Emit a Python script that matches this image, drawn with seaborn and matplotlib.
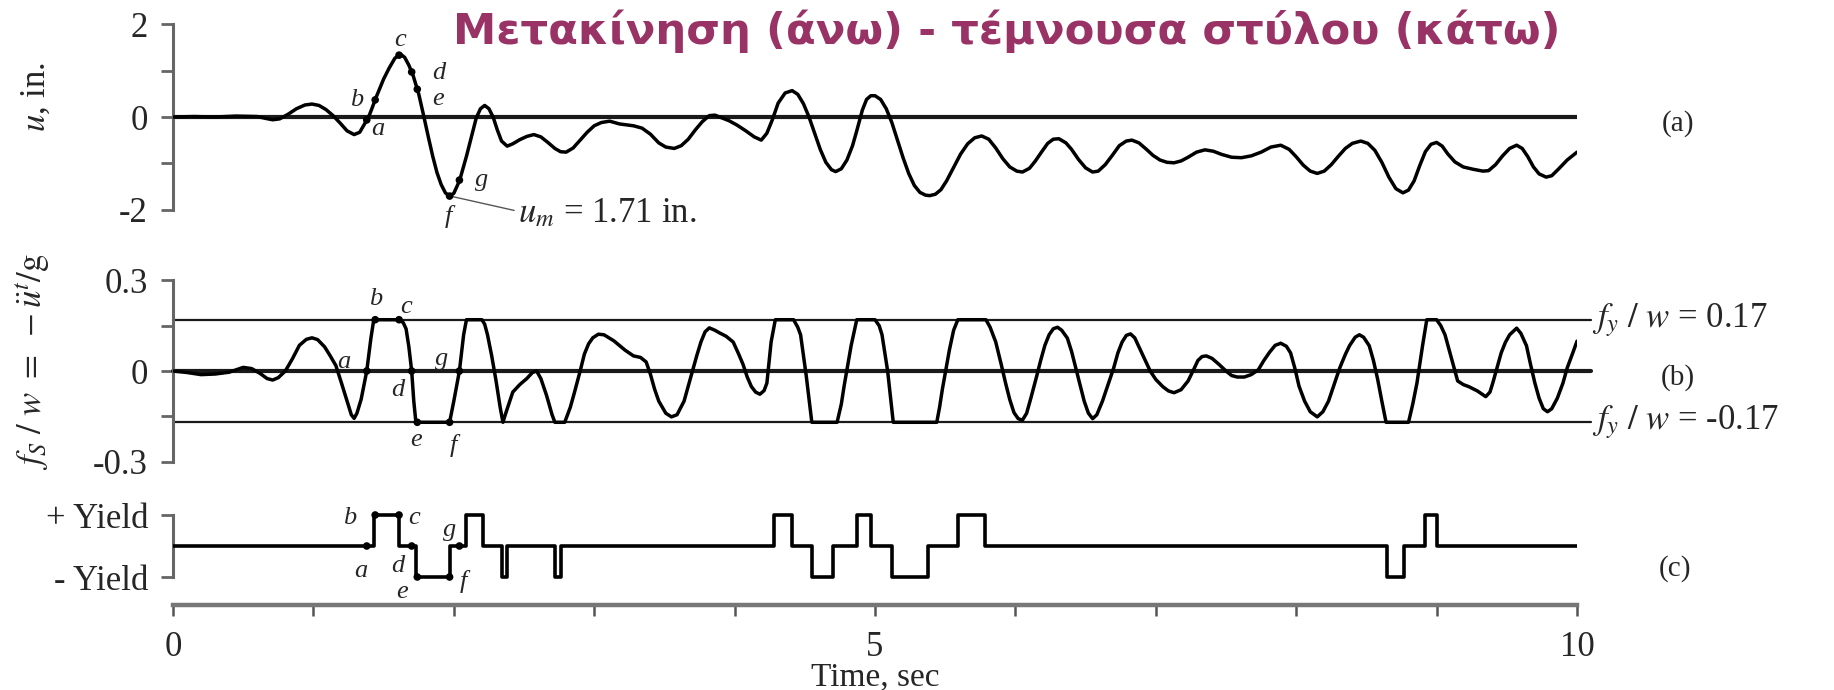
import numpy as np
import pandas as pd
import matplotlib
matplotlib.use("Agg")
import matplotlib.pyplot as plt
import seaborn as sns

# ---------------- data ----------------
# (a) displacement u(t), in.
time_u = [0.00, 0.15, 0.30, 0.45, 0.60, 0.66, 0.71, 0.76, 0.82, 0.88, 0.94, 0.99,
          1.04, 1.09, 1.14, 1.19, 1.24, 1.29, 1.33, 1.37, 1.40, 1.45, 1.50, 1.54,
          1.58, 1.62, 1.65, 1.68, 1.71, 1.75, 1.78, 1.82, 1.85, 1.88, 1.91, 1.94,
          1.97, 2.00, 2.03, 2.05, 2.09, 2.13, 2.16, 2.19, 2.22, 2.25, 2.28, 2.31,
          2.34, 2.38, 2.42, 2.47, 2.52, 2.57, 2.62, 2.67, 2.72, 2.76, 2.80, 2.85,
          2.90, 2.95, 3.00, 3.05, 3.11, 3.18, 3.28, 3.34, 3.40, 3.46, 3.51, 3.57,
          3.62, 3.67, 3.72, 3.77, 3.82, 3.86, 3.91, 3.96, 4.02, 4.08, 4.14, 4.19,
          4.23, 4.27, 4.31, 4.36, 4.41, 4.45, 4.49, 4.53, 4.57, 4.61, 4.65, 4.69,
          4.72, 4.76, 4.80, 4.84, 4.87, 4.91, 4.94, 4.97, 5.00, 5.04, 5.08, 5.12,
          5.16, 5.20, 5.24, 5.28, 5.32, 5.36, 5.39, 5.43, 5.47, 5.51, 5.56, 5.61,
          5.66, 5.71, 5.76, 5.81, 5.86, 5.91, 5.96, 6.01, 6.05, 6.10, 6.14, 6.19,
          6.23, 6.27, 6.31, 6.36, 6.40, 6.45, 6.50, 6.55, 6.59, 6.64, 6.69, 6.74,
          6.79, 6.83, 6.88, 6.93, 6.98, 7.03, 7.08, 7.13, 7.18, 7.23, 7.29, 7.35,
          7.41, 7.47, 7.54, 7.61, 7.68, 7.75, 7.82, 7.89, 7.95, 8.00, 8.05, 8.10,
          8.15, 8.20, 8.25, 8.30, 8.35, 8.40, 8.46, 8.51, 8.56, 8.61, 8.66, 8.71,
          8.76, 8.80, 8.84, 8.88, 8.92, 8.96, 9.00, 9.04, 9.08, 9.13, 9.19, 9.26,
          9.33, 9.37, 9.42, 9.47, 9.52, 9.57, 9.61, 9.65, 9.69, 9.73, 9.78, 9.82,
          9.87, 9.93, 10.00]
disp_u = [0.00, 0.01, 0.00, 0.02, 0.01, -0.03, -0.06, -0.04, 0.06, 0.18, 0.26, 0.28,
          0.25, 0.16, 0.03, -0.13, -0.30, -0.38, -0.33, -0.12, 0.05, 0.45, 0.82, 1.06,
          1.27, 1.36, 1.29, 1.12, 0.90, 0.50, 0.10, -0.45, -0.85, -1.20, -1.46, -1.64,
          -1.71, -1.65, -1.45, -1.28, -0.85, -0.38, -0.02, 0.18, 0.25, 0.18, 0.00, -0.28,
          -0.52, -0.63, -0.58, -0.49, -0.42, -0.38, -0.43, -0.55, -0.68, -0.75, -0.76, -0.67,
          -0.50, -0.33, -0.19, -0.12, -0.09, -0.15, -0.19, -0.24, -0.37, -0.56, -0.65, -0.68,
          -0.62, -0.48, -0.28, -0.10, 0.03, 0.04, -0.02, -0.08, -0.18, -0.30, -0.43, -0.50,
          -0.35, -0.05, 0.30, 0.52, 0.57, 0.49, 0.29, 0.00, -0.35, -0.70, -0.98, -1.14,
          -1.18, -1.12, -0.93, -0.62, -0.30, 0.15, 0.38, 0.46, 0.46, 0.38, 0.18, -0.12,
          -0.50, -0.88, -1.22, -1.48, -1.63, -1.69, -1.70, -1.67, -1.57, -1.38, -1.09, -0.80,
          -0.58, -0.45, -0.41, -0.48, -0.67, -0.90, -1.08, -1.17, -1.19, -1.11, -0.96, -0.74,
          -0.57, -0.48, -0.47, -0.56, -0.70, -0.92, -1.10, -1.19, -1.17, -1.03, -0.83, -0.62,
          -0.52, -0.50, -0.56, -0.69, -0.83, -0.93, -0.98, -0.99, -0.95, -0.87, -0.76, -0.71,
          -0.74, -0.81, -0.87, -0.88, -0.84, -0.76, -0.65, -0.61, -0.70, -0.86, -1.04, -1.17,
          -1.22, -1.17, -1.03, -0.85, -0.68, -0.57, -0.52, -0.57, -0.72, -0.98, -1.30, -1.55,
          -1.64, -1.58, -1.38, -1.05, -0.75, -0.59, -0.55, -0.63, -0.80, -0.97, -1.08, -1.13,
          -1.17, -1.16, -1.03, -0.84, -0.68, -0.61, -0.68, -0.86, -1.08, -1.23, -1.30, -1.27,
          -1.12, -0.93, -0.76]

# (b) normalized resisting force f_S / w
time_f = [0.00, 0.10, 0.20, 0.30, 0.40, 0.50, 0.56, 0.62, 0.67, 0.71, 0.75, 0.80,
          0.85, 0.90, 0.95, 0.99, 1.03, 1.08, 1.12, 1.16, 1.20, 1.24, 1.27, 1.29,
          1.31, 1.34, 1.38, 1.41, 1.43, 1.61, 1.64, 1.66, 1.68, 1.70, 1.715, 1.73,
          1.97, 2.00, 2.04, 2.07, 2.09, 2.20, 2.22, 2.24, 2.27, 2.30, 2.33, 2.35,
          2.37, 2.42, 2.47, 2.52, 2.56, 2.59, 2.62, 2.66, 2.70, 2.72, 2.79, 2.83,
          2.86, 2.90, 2.93, 2.96, 2.99, 3.03, 3.07, 3.14, 3.22, 3.28, 3.33, 3.37,
          3.40, 3.43, 3.46, 3.51, 3.55, 3.59, 3.64, 3.67, 3.70, 3.73, 3.76, 3.79,
          3.82, 3.86, 3.89, 3.94, 3.99, 4.03, 4.06, 4.09, 4.12, 4.15, 4.18, 4.21,
          4.23, 4.26, 4.29, 4.42, 4.45, 4.47, 4.51, 4.55, 4.73, 4.76, 4.78, 4.83,
          4.87, 5.00, 5.03, 5.05, 5.09, 5.13, 5.44, 5.46, 5.48, 5.53, 5.56, 5.59,
          5.79, 5.82, 5.86, 5.90, 5.93, 5.96, 5.99, 6.02, 6.05, 6.08, 6.11, 6.15,
          6.18, 6.21, 6.24, 6.27, 6.30, 6.33, 6.37, 6.40, 6.43, 6.46, 6.49, 6.52,
          6.55, 6.58, 6.62, 6.66, 6.70, 6.73, 6.76, 6.79, 6.82, 6.85, 6.89, 6.93,
          6.96, 7.00, 7.05, 7.09, 7.13, 7.18, 7.23, 7.27, 7.30, 7.33, 7.36, 7.40,
          7.45, 7.50, 7.54, 7.58, 7.63, 7.68, 7.73, 7.77, 7.81, 7.85, 7.89, 7.93,
          7.96, 7.99, 8.02, 8.06, 8.10, 8.15, 8.19, 8.23, 8.27, 8.31, 8.35, 8.38,
          8.42, 8.45, 8.48, 8.52, 8.55, 8.58, 8.61, 8.64, 8.80, 8.83, 8.86, 8.90,
          8.93, 9.00, 9.03, 9.06, 9.11, 9.15, 9.19, 9.23, 9.29, 9.35, 9.38, 9.40,
          9.43, 9.46, 9.49, 9.52, 9.57, 9.60, 9.64, 9.67, 9.70, 9.73, 9.76, 9.79,
          9.82, 9.86, 9.90, 9.93, 9.97, 10.00]
force_f = [0.000, -0.005, -0.012, -0.010, -0.004, 0.012, 0.008, -0.008, -0.025, -0.030, -0.022, 0.000,
           0.040, 0.085, 0.105, 0.110, 0.104, 0.080, 0.050, 0.018, -0.040, -0.100, -0.145, -0.157,
           -0.140, -0.094, 0.000, 0.110, 0.170, 0.170, 0.160, 0.140, 0.080, 0.000, -0.100, -0.170,
           -0.170, -0.100, 0.000, 0.120, 0.170, 0.170, 0.155, 0.120, 0.050, -0.030, -0.120, -0.170,
           -0.140, -0.070, -0.045, -0.025, -0.005, 0.000, -0.025, -0.080, -0.145, -0.170, -0.170, -0.120,
           -0.070, 0.000, 0.056, 0.090, 0.110, 0.122, 0.120, 0.100, 0.069, 0.050, 0.045, 0.030,
           -0.010, -0.060, -0.100, -0.140, -0.152, -0.145, -0.100, -0.050, 0.000, 0.050, 0.096, 0.130,
           0.143, 0.135, 0.127, 0.115, 0.096, 0.055, 0.022, -0.020, -0.052, -0.070, -0.077, -0.065,
           -0.040, 0.096, 0.170, 0.170, 0.145, 0.120, -0.015, -0.170, -0.170, -0.110, -0.050, 0.084,
           0.170, 0.170, 0.150, 0.120, 0.000, -0.170, -0.170, -0.120, -0.060, 0.070, 0.135, 0.170,
           0.170, 0.145, 0.096, 0.020, -0.040, -0.095, -0.138, -0.158, -0.163, -0.140, -0.090, -0.020,
           0.035, 0.085, 0.120, 0.140, 0.145, 0.135, 0.109, 0.065, 0.010, -0.045, -0.100, -0.140,
           -0.158, -0.145, -0.100, -0.045, 0.010, 0.060, 0.096, 0.118, 0.123, 0.110, 0.070, 0.030,
           0.000, -0.028, -0.052, -0.066, -0.072, -0.062, -0.033, 0.005, 0.035, 0.048, 0.050, 0.042,
           0.022, 0.000, -0.015, -0.020, -0.020, -0.012, 0.004, 0.035, 0.062, 0.085, 0.092, 0.082,
           0.060, 0.010, -0.050, -0.100, -0.135, -0.152, -0.135, -0.100, -0.045, 0.010, 0.055, 0.084,
           0.112, 0.120, 0.112, 0.084, 0.035, -0.027, -0.100, -0.170, -0.170, -0.110, -0.040, 0.084,
           0.170, 0.170, 0.150, 0.120, 0.035, -0.033, -0.045, -0.052, -0.066, -0.085, -0.070, -0.040,
           0.010, 0.060, 0.095, 0.120, 0.142, 0.125, 0.084, 0.020, -0.040, -0.090, -0.125, -0.135,
           -0.125, -0.090, -0.040, 0.010, 0.060, 0.099]

# (c) yielding excursions: start, end, direction (+1 / -1)
yield_start = [1.43, 1.73, 2.09, 2.34, 2.72, 4.28, 4.55, 4.87, 5.12, 5.59, 8.65, 8.92]
yield_end   = [1.61, 1.97, 2.21, 2.38, 2.76, 4.41, 4.70, 4.97, 5.38, 5.78, 8.77, 9.00]
yield_sign  = [1, -1, 1, -1, -1, 1, -1, 1, -1, 1, -1, 1]

# key instants a..g
event_names = ["a", "b", "c", "d", "e", "f", "g"]
event_times = [1.38, 1.44, 1.61, 1.70, 1.74, 1.97, 2.04]
event_state = [0, 1, 1, 0, -1, -1, 0]

fy_over_w = 0.17
u_max = 1.71
duration = 10.0

title_text = "Μετακίνηση (άνω) - τέμνουσα στύλου (κάτω)"

# ---------------- style ----------------
sns.set_theme(style="white")
plt.rcParams["font.family"] = ["Liberation Serif", "DejaVu Serif"]
plt.rcParams["mathtext.fontset"] = "stix"

W, H = 1834, 690
fig = plt.figure(figsize=(W / 100, H / 100), dpi=100)
fig.patch.set_facecolor("white")

X0, X1 = 173, 1577          # pixel columns of t = 0 and t = 10


def make_axes(ylim, y_top_px, y_bot_px):
    rect = [X0 / W, 1 - y_bot_px / H, (X1 - X0) / W, (y_bot_px - y_top_px) / H]
    ax = fig.add_axes(rect)
    ax.set_xlim(0, duration)
    ax.set_ylim(*ylim)
    ax.patch.set_alpha(0)
    return ax


def px_range(zero_px, per_unit, lo, hi):
    return zero_px - hi * per_unit, zero_px - lo * per_unit


ax_a = make_axes((-2.7, 2.3), *px_range(117, 46.25, -2.7, 2.3))
ax_b = make_axes((-0.33, 0.33), *px_range(371, 301.7, -0.33, 0.33))
ax_c = make_axes((-1.9, 1.4), *px_range(546, 31.0, -1.9, 1.4))

SPINE = "#666666"
LW = 2.5
LABEL_FS = 25
LETTER_FS = 19

for ax in (ax_a, ax_b, ax_c):
    for side in ("top", "right", "bottom"):
        ax.spines[side].set_visible(False)
    ax.spines["left"].set_color(SPINE)
    ax.spines["left"].set_linewidth(2.2)
    ax.tick_params(axis="y", left=True, direction="out", length=9, width=2.0,
                   color=SPINE, pad=9, labelsize=LABEL_FS)
    ax.tick_params(axis="x", bottom=False, labelbottom=False)

# ---- (a) displacement ----
df_u = pd.DataFrame({"t": time_u, "u": disp_u})
ax_a.axhline(0, 0, 1, color="#1a1a1a", lw=3.0, zorder=1)
sns.lineplot(data=df_u, x="t", y="u", ax=ax_a, color="black", lw=LW,
             sort=False, estimator=None, zorder=3,
             solid_joinstyle="round", solid_capstyle="round")
ev_u = np.interp(event_times, time_u, disp_u)
ev_u[event_names.index("f")] = -u_max
sns.scatterplot(x=event_times, y=ev_u, ax=ax_a, color="black", s=30,
                edgecolor="none", zorder=4)
ax_a.spines["left"].set_bounds(-2, 2)
ax_a.set_yticks([-2, -1, 0, 1, 2])
ax_a.set_yticklabels(["-2", "", "0", "", "2"])
letters_a = {"a": (1.46, -0.25), "b": (1.31, 0.36), "c": (1.62, 1.66),
             "d": (1.89, 0.95), "e": (1.89, 0.38), "f": (1.96, -2.16),
             "g": (2.20, -1.36)}
for name, (tx, ty) in letters_a.items():
    ax_a.text(tx, ty, name, fontsize=LETTER_FS, style="italic",
              ha="center", va="center", zorder=5)
i_f = event_names.index("f")
ax_a.plot([event_times[i_f] + 0.02, 2.43], [-u_max - 0.01, -2.02],
          color="#555555", lw=1.0, zorder=2)
ax_a.text(2.46, -2.10, f"$u_m$ = {u_max:.2f} in.", fontsize=LABEL_FS,
          ha="left", va="center", clip_on=False)
ax_a.text(10.72, -0.15, "(a)", fontsize=21, ha="center", va="center",
          clip_on=False)

# ---- (b) resisting force ----
df_f = pd.DataFrame({"t": time_f, "f": force_f})
for level, lw in ((0.0, 3.0), (fy_over_w, 1.6), (-fy_over_w, 1.6)):
    ax_b.plot([0, 10.1], [level, level], color="#1a1a1a", lw=lw,
              clip_on=False, zorder=1)
sns.lineplot(data=df_f, x="t", y="f", ax=ax_b, color="black", lw=LW,
             sort=False, estimator=None, zorder=3,
             solid_joinstyle="round", solid_capstyle="round")
ev_f = np.interp(event_times, time_f, force_f)
sns.scatterplot(x=event_times, y=ev_f, ax=ax_b, color="black", s=30,
                edgecolor="none", zorder=4)
ax_b.spines["left"].set_bounds(-0.3, 0.3)
ax_b.set_yticks([-0.3, -0.15, 0, 0.15, 0.3])
ax_b.set_yticklabels(["-0.3", "", "0", "", "0.3"])
letters_b = {"a": (1.22, 0.03), "b": (1.44, 0.238), "c": (1.66, 0.213),
             "d": (1.60, -0.063), "e": (1.73, -0.228), "f": (2.00, -0.247),
             "g": (1.91, 0.040)}
for name, (tx, ty) in letters_b.items():
    ax_b.text(tx, ty, name, fontsize=LETTER_FS, style="italic",
              ha="center", va="center", zorder=5)
ax_b.text(10.11, fy_over_w, f"$f_y\\ /\\ w$ = {fy_over_w:.2f}",
          fontsize=LABEL_FS, ha="left", va="center", clip_on=False)
ax_b.text(10.11, -fy_over_w, f"$f_y\\ /\\ w$ = -{fy_over_w:.2f}",
          fontsize=LABEL_FS, ha="left", va="center", clip_on=False)
ax_b.text(10.72, -0.023, "(b)", fontsize=21, ha="center", va="center",
          clip_on=False)

# ---- (c) yielding state ----
step_t, step_v = [0.0], [0]
for s, e, sg in zip(yield_start, yield_end, yield_sign):
    step_t += [s, s, e, e]
    step_v += [0, sg, sg, 0]
step_t.append(duration)
step_v.append(0)
df_c = pd.DataFrame({"t": step_t, "v": step_v})
sns.lineplot(data=df_c, x="t", y="v", ax=ax_c, color="black", lw=2.6,
             sort=False, estimator=None, zorder=3)
sns.scatterplot(x=event_times, y=event_state, ax=ax_c, color="black", s=30,
                edgecolor="none", zorder=4)
ax_c.spines["left"].set_bounds(-1, 1)
ax_c.set_yticks([-1, 1])
ax_c.set_yticklabels(["- Yield", "+ Yield"])
letters_c = {"a": (1.34, -0.80), "b": (1.26, 0.89), "c": (1.72, 0.89),
             "d": (1.60, -0.65), "e": (1.63, -1.48), "f": (2.07, -1.14),
             "g": (1.97, 0.52)}
for name, (tx, ty) in letters_c.items():
    ax_c.text(tx, ty, name, fontsize=LETTER_FS, style="italic",
              ha="center", va="center", zorder=5)
ax_c.text(10.70, -0.74, "(c)", fontsize=21, ha="center", va="center",
          clip_on=False)

# time axis
ax_c.spines["bottom"].set_visible(True)
ax_c.spines["bottom"].set_bounds(0, duration)
ax_c.spines["bottom"].set_color("#777777")
ax_c.spines["bottom"].set_linewidth(3.2)
ax_c.set_xticks(np.arange(0, 11, 1))
ax_c.set_xticklabels(["0", "", "", "", "", "5", "", "", "", "", "10"])
ax_c.tick_params(axis="x", bottom=True, labelbottom=True, direction="out",
                 length=8, width=1.8, color="#555555", pad=11,
                 labelsize=LABEL_FS)

for ax in (ax_a, ax_b, ax_c):
    ax.set_xlabel("")
    ax.set_ylabel("")

fig.text((X0 + X1) / 2 / W, 1 - 677 / H, "Time, sec", fontsize=24,
         ha="center", va="center")

# axis titles on the left
fig.text(36 / W, 1 - 97 / H, "$u$, in.", rotation=90, fontsize=LABEL_FS,
         ha="center", va="center")
fig.text(33 / W, 1 - 362 / H, r"$f_S\ /\ w\ =\ -\ddot{u}^t/\mathrm{g}$",
         rotation=90, fontsize=LABEL_FS, ha="center", va="center")

# heading
title = fig.text(1007 / W, 1 - 31 / H, title_text, fontsize=30,
                 fontweight="bold", color="#993366", ha="center",
                 va="center", family=["DejaVu Sans"])
fig.canvas.draw()
bb = title.get_window_extent()
title.set_fontsize(30 * 1105 / bb.width)

fig.savefig("out.png", dpi=100, facecolor="white")
